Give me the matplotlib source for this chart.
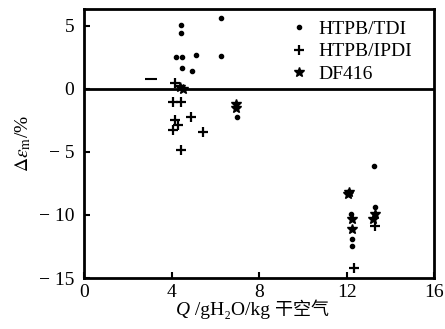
import matplotlib
matplotlib.use("Agg")
import matplotlib.pyplot as plt
from matplotlib.offsetbox import TextArea, HPacker, AnchoredOffsetbox

plt.rcParams['font.family'] = ['Liberation Serif', 'Noto Sans CJK SC', 'DejaVu Sans']
plt.rcParams['mathtext.fontset'] = 'stix'

# HTPB/TDI (dots)
tdi_x = [4.44, 4.44, 6.26, 4.21, 4.47, 5.12, 6.26, 4.47, 4.92, 6.97, 13.23, 13.27, 12.2, 12.25, 12.25]
tdi_y = [5.1, 4.4, 5.6, 2.5, 2.5, 2.7, 2.6, 1.64, 1.43, -2.25, -6.1, -9.4, -9.9, -11.9, -12.5]
# HTPB/IPDI (plus)
ipdi_x = [4.14, 4.06, 4.44, 4.89, 4.14, 4.3, 4.06, 5.42, 4.44, 13.27, 12.35]
ipdi_y = [0.45, -1.0, -1.0, -2.25, -2.46, -2.85, -3.25, -3.38, -4.84, -10.9, -14.2]
# DF416 (star)
df_x = [4.36, 4.5, 6.94, 6.94, 12.12, 12.05, 13.27, 13.2, 12.22, 12.25]
df_y = [0.18, 0.0, -1.2, -1.55, -8.15, -8.3, -9.95, -10.35, -10.35, -11.15]
# stray dash mark
dash_x = [3.07]
dash_y = [0.8]

x_ticks = [0, 4, 8, 12, 16]
y_ticks = [-15, -10, -5, 0, 5]

fig = plt.figure(figsize=(4.45, 3.29), dpi=100)
ax = fig.add_axes([0.189, 0.155, 0.787, 0.818])

ax.axhline(0, color='black', lw=2.0, zorder=1)
ax.plot(tdi_x, tdi_y, 'o', color='black', ms=3, ls='none', label='HTPB/TDI', zorder=3)
ax.plot(ipdi_x, ipdi_y, '+', color='black', ms=7, mew=1.6, ls='none', label='HTPB/IPDI', zorder=3)
ax.plot(df_x, df_y, '*', color='black', ms=7, ls='none', label='DF416', zorder=3)
ax.plot(dash_x, dash_y, '_', color='black', ms=8, mew=1.5, ls='none', zorder=3)

ax.set_xlim(0, 16)
ax.set_ylim(-15, 6.35)
ax.set_xticks(x_ticks)
ax.set_yticks(y_ticks)
ax.set_yticklabels(['\u2212 15', '\u2212 10', '\u2212 5', '0', '5'])
ax.tick_params(direction='in', length=4, width=1.5, labelsize=14)
ax.tick_params(axis='y', pad=7)
ax.tick_params(axis='x', pad=4)
for s in ax.spines.values():
    s.set_linewidth(2)

# x label built from pieces so the Chinese text gets a CJK font
lab_parts = [
    TextArea('Q', textprops=dict(fontsize=14, style='italic', family='Liberation Serif')),
    TextArea(' /gH\u2082O/kg ', textprops=dict(fontsize=14, family=['Liberation Serif', 'DejaVu Serif'])),
    TextArea('干空气', textprops=dict(fontsize=13, family='Noto Sans CJK SC')),
]
xlab = HPacker(children=lab_parts, align='baseline', pad=0, sep=0)
abox = AnchoredOffsetbox(loc='upper center', child=xlab, frameon=False, pad=0, borderpad=0,
                         bbox_to_anchor=(0.48, -0.085), bbox_transform=ax.transAxes)
ax.add_artist(abox)

ax.set_ylabel(r'$\Delta\epsilon_{\rm m}$/%', fontsize=14, labelpad=4)

leg = ax.legend(loc='upper left', bbox_to_anchor=(0.650, 0.938), bbox_transform=fig.transFigure,
                frameon=False, fontsize=14, handlelength=1.0, handletextpad=0.5,
                labelspacing=0.25, borderpad=0, borderaxespad=0)

fig.savefig('out.png', dpi=100)
